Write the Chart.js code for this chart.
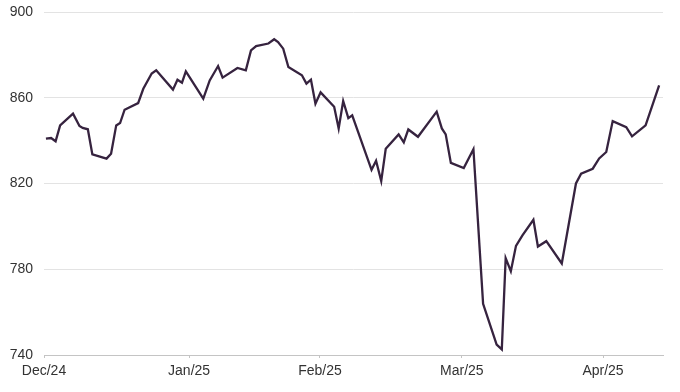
<!DOCTYPE html>
<html>
    <head>
        <title>Index chart</title>
        <meta charset="UTF-8">
        <script src="https://cdn.jsdelivr.net/npm/chart.js@4.4.1/dist/chart.umd.min.js"></script>
        <style>
            html, body { margin: 0; padding: 0; background: #ffffff; }
            #box { width: 680px; height: 392px; position: relative; }
        </style>
    </head>
    <body>
        <div id="box">
            <canvas id="lineChart"></canvas>
        </div>

        <script>
            // position along the axis, in trading days from the start of December
            var tradingDay = [0.3, 1.1, 1.8, 2.5, 4.5, 5.5, 6.0, 6.8, 7.5, 9.7,
                10.4, 11.2, 11.8, 12.5, 14.6, 15.4, 16.7, 17.4, 20.0, 20.7,
                21.4, 22.0, 24.7, 25.7, 27.0, 27.7, 30.0, 31.3, 32.1, 32.9,
                34.8, 35.7, 36.3, 37.1, 37.9, 40.0, 40.7, 41.4, 42.1, 42.9,
                45.0, 45.7, 46.4, 47.2, 47.8, 50.8, 51.5, 52.3, 53.0, 55.0,
                55.8, 56.5, 58.0, 60.9, 61.7, 62.3, 63.1, 65.1, 66.6, 68.1,
                70.2, 71.0, 71.6, 72.4, 73.2, 74.2, 75.9, 76.6, 77.9, 80.3,
                82.5, 83.3, 85.1, 86.1, 87.2, 88.2, 90.3, 91.2, 93.3, 95.4];
            var values = [840.9, 841.2, 839.7, 847.1, 852.6, 846.8, 845.9, 845.3, 833.6, 831.6,
                833.9, 847.1, 848.2, 854.4, 857.5, 864.2, 871.3, 872.8, 863.8, 868.4,
                867.0, 872.3, 859.6, 868.1, 874.8, 869.4, 873.9, 872.8, 882.1, 884.1,
                885.3, 887.3, 886.0, 882.9, 874.3, 870.5, 866.6, 868.4, 857.2, 862.5,
                855.8, 845.7, 858.5, 850.5, 851.8, 826.4, 830.6, 821.1, 836.2, 842.9,
                839.2, 845.2, 841.8, 853.5, 845.7, 842.9, 829.6, 827.2, 836.0, 763.9,
                744.9, 742.6, 785.2, 779.1, 790.9, 795.8, 803.1, 790.6, 793.1, 782.7,
                820.0, 824.6, 826.9, 831.7, 834.7, 849.1, 846.3, 842.0, 847.1, 865.8];

            var monthTicks = [0, 22.5, 42.8, 64.8, 86.7];
            var monthLabels = ['Dec/24', 'Jan/25', 'Feb/25', 'Mar/25', 'Apr/25'];
            var yTicks = [740, 780, 820, 860, 900];

            var points = [];
            for (var i = 0; i < tradingDay.length; i++) {
                points.push({x: tradingDay[i], y: values[i]});
            }

            var textColor = '#333333';
            var labelFont = {family: "'Liberation Sans', Arial, sans-serif", size: 14};

            new Chart(document.getElementById('lineChart'), {
                type: 'line',
                data: {
                    datasets: [{
                            data: points,
                            borderColor: '#36233f',
                            borderWidth: 2.3,
                            pointRadius: 0,
                            tension: 0,
                            fill: false
                        }]
                },
                options: {
                    responsive: true,
                    maintainAspectRatio: false,
                    devicePixelRatio: 1,
                    animation: false,
                    layout: {
                        padding: {top: 12, right: 17, bottom: 0, left: 0}
                    },
                    plugins: {
                        legend: {display: false},
                        tooltip: {enabled: false}
                    },
                    scales: {
                        x: {
                            type: 'linear',
                            min: 0,
                            max: 96,
                            afterBuildTicks: function (scale) {
                                scale.ticks = monthTicks.map(function (v) {
                                    return {value: v};
                                });
                            },
                            afterFit: function (scale) {
                                scale.height = 37;
                            },
                            ticks: {
                                autoSkip: false,
                                maxRotation: 0,
                                padding: 5,
                                color: textColor,
                                font: labelFont,
                                callback: function (value, index) {
                                    return monthLabels[index];
                                }
                            },
                            grid: {
                                drawOnChartArea: false,
                                drawTicks: true,
                                tickLength: 3,
                                color: '#c4c4c4'
                            },
                            border: {display: true, color: '#c4c4c4', width: 1}
                        },
                        y: {
                            min: 740,
                            max: 900,
                            afterBuildTicks: function (scale) {
                                scale.ticks = yTicks.map(function (v) {
                                    return {value: v};
                                });
                            },
                            afterFit: function (scale) {
                                scale.width = 44;
                                scale.paddingTop = 0;
                                scale.paddingBottom = 0;
                            },
                            ticks: {
                                padding: 11,
                                color: textColor,
                                font: labelFont
                            },
                            grid: {
                                color: '#e3e3e3',
                                drawTicks: false
                            },
                            border: {display: false}
                        }
                    }
                }
            });
        </script>
    </body>
</html>
